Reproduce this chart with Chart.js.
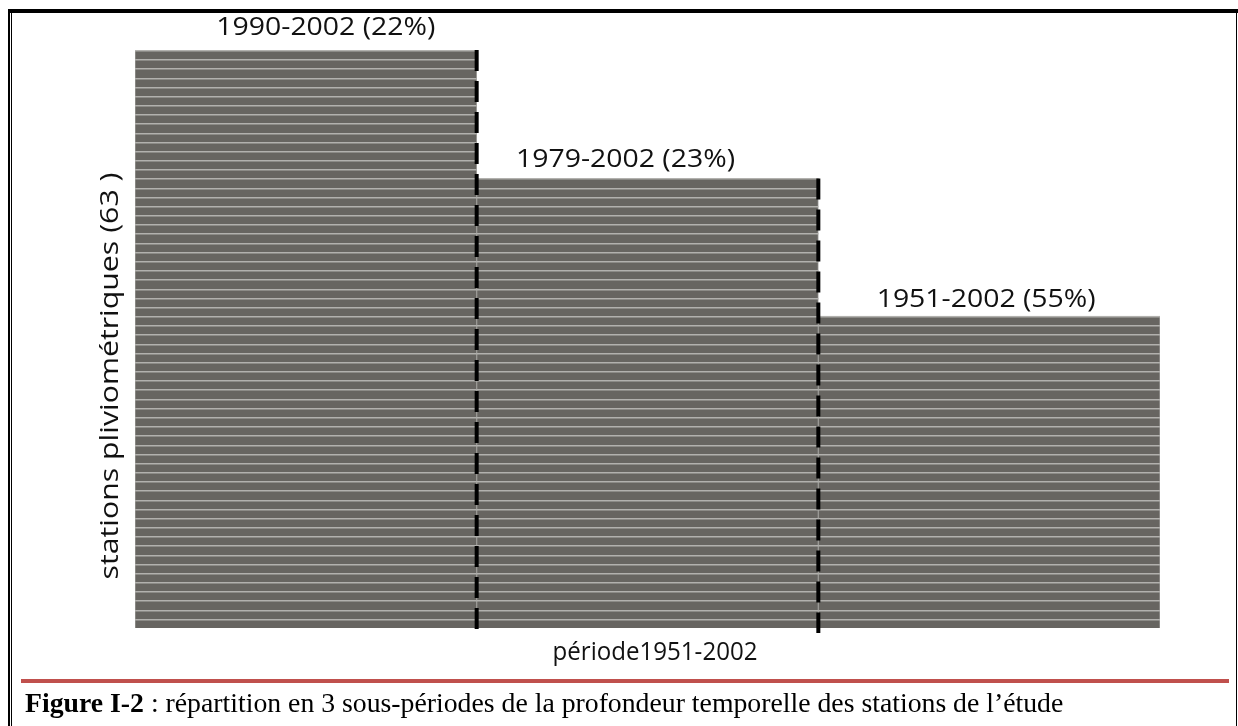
<!DOCTYPE html>
<html>
<head>
<meta charset="utf-8">
<script src="https://cdn.jsdelivr.net/npm/chart.js@4.4.1/dist/chart.umd.min.js"></script>
<style>
  html, body { margin: 0; padding: 0; background: #fff; }
  #wrap { position: relative; width: 1238px; height: 726px; overflow: hidden; background: #fff; }
  #c { position: absolute; left: 0; top: 0; }
  .frame { position: absolute; background: #000; }
  #redline { position: absolute; left: 21px; top: 679px; width: 1208px; height: 4px; background: #c0504d; }
  #caption { position: absolute; left: 25px; top: 687px; font-family: "Liberation Serif", "Times New Roman", serif; font-size: 27.75px; color: #000; white-space: nowrap; line-height: 32px; }
</style>
</head>
<body>
<div id="wrap">
  <canvas id="c" width="1238" height="726"></canvas>
  <div class="frame" style="left:8px; top:9px; width:1230px; height:4px;"></div>
  <div class="frame" style="left:8px; top:9px; width:2px; height:717px;"></div>
  <div class="frame" style="left:11px; top:13px; width:1px; height:713px;"></div>
  <div class="frame" style="left:1236px; top:9px; width:1px; height:717px;"></div>
  <div id="redline"></div>
  <div id="caption"><b>Figure I-2</b> : répartition en 3 sous-périodes de la profondeur temporelle des stations de l’étude</div>
</div>
<script>
// ---- data ----
const categories = ['1990-2002', '1979-2002', '1951-2002'];
const sharesPct = [22, 23, 55];
const stationCounts = [63, 49, 34];
const yAxisTitle = 'stations pliviométriques (63 )';
const xAxisTitle = 'période1951-2002';

const barLabels = categories.map((c, i) => `${c} (${sharesPct[i]}%)`);

// ---- styles ----
const FILL = '#676561';
const STRIPE = '#b2b1ae';
const LABEL_FONT = '25px "Open Sans", sans-serif';
const LABEL_DX = [20, -22, -3];
const LABEL_DY = [15, 11, 9];
const LABEL_W = 219;

function drawFitted(ctx, text, x, y, targetW) {
  const w = ctx.measureText(text).width;
  const sx = targetW ? targetW / w : 1;
  ctx.save();
  ctx.translate(x, y);
  ctx.scale(sx, 1);
  ctx.fillText(text, 0, 0);
  ctx.restore();
}

const decorPlugin = {
  id: 'decor',
  afterDatasetsDraw(chart) {
    const ctx = chart.ctx;
    const meta = chart.getDatasetMeta(0);
    const ys = chart.scales.y;
    const base = ys.getPixelForValue(0);
    // stripes: one light line per station
    ctx.save();
    ctx.strokeStyle = STRIPE;
    ctx.lineWidth = 1.5;
    meta.data.forEach((bar, i) => {
      const l = bar.x - bar.width / 2, r = bar.x + bar.width / 2;
      for (let k = 1; k <= stationCounts[i]; k++) {
        const y = Math.round(ys.getPixelForValue(k)) + 0.75;
        ctx.beginPath();
        ctx.moveTo(l, y);
        ctx.lineTo(r, y);
        ctx.stroke();
      }
    });
    ctx.restore();
    // dashed separators
    ctx.save();
    ctx.strokeStyle = '#000';
    ctx.lineWidth = 4;
    ctx.setLineDash([21, 10]);
    for (let i = 0; i < meta.data.length - 1; i++) {
      const bar = meta.data[i];
      const x = bar.x + bar.width / 2;
      const top = ys.getPixelForValue(Math.max(stationCounts[i], stationCounts[i + 1]));
      ctx.beginPath();
      ctx.moveTo(x, top);
      ctx.lineTo(x, base + 5);
      ctx.stroke();
    }
    ctx.restore();
    // bar labels
    ctx.save();
    ctx.fillStyle = '#111';
    ctx.font = LABEL_FONT;
    ctx.textAlign = 'center';
    ctx.textBaseline = 'alphabetic';
    meta.data.forEach((bar, i) => {
      drawFitted(ctx, barLabels[i], bar.x + LABEL_DX[i], bar.y - LABEL_DY[i], LABEL_W);
    });
    // axis titles
    drawFitted(ctx, xAxisTitle, 655, 660, 205);
    ctx.translate(118, 376);
    ctx.rotate(-Math.PI / 2);
    drawFitted(ctx, yAxisTitle, 0, 0, 407);
    ctx.restore();
  }
};

new Chart(document.getElementById('c'), {
  type: 'bar',
  data: {
    labels: categories,
    datasets: [{
      data: stationCounts,
      backgroundColor: FILL,
      borderColor: '#9a9995',
      borderWidth: 1,
      barPercentage: 1,
      categoryPercentage: 1
    }]
  },
  options: {
    responsive: false,
    animation: false,
    layout: { padding: { left: 135, right: 78, top: 50, bottom: 98 } },
    plugins: { legend: { display: false }, tooltip: { enabled: false } },
    scales: {
      x: { display: false },
      y: { display: false, min: 0, max: 63 }
    }
  },
  plugins: [decorPlugin]
});
</script>
</body>
</html>
